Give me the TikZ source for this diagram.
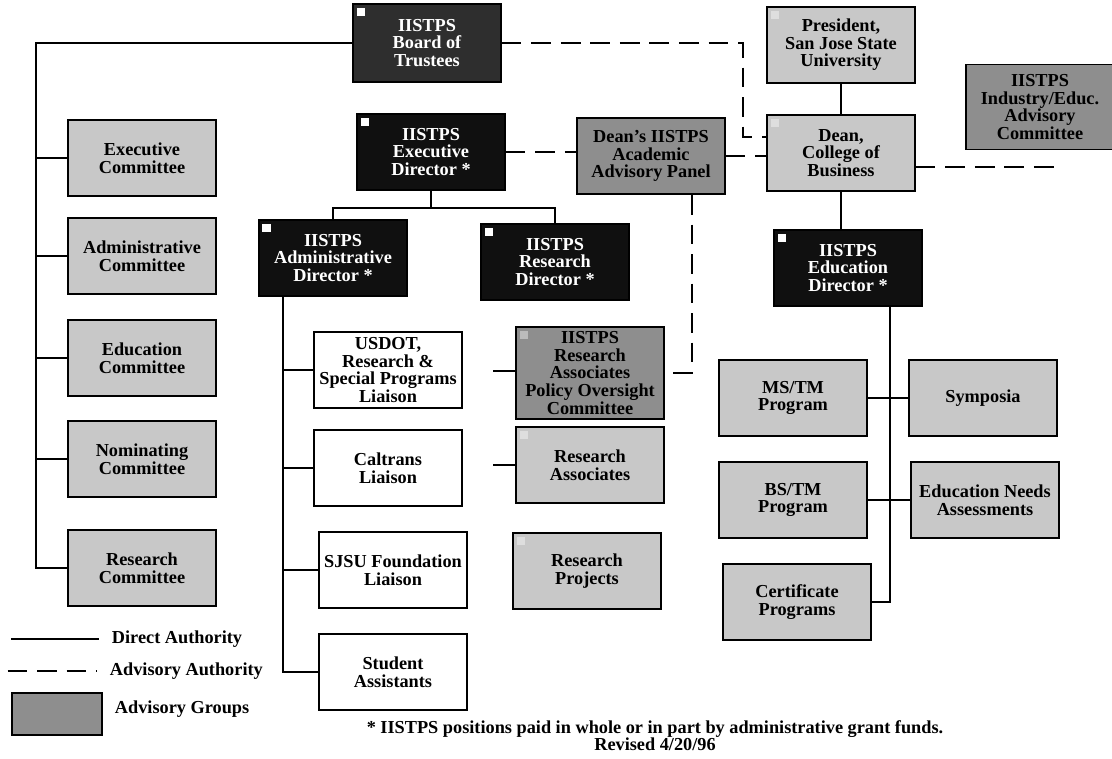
\documentclass[tikz,border=0pt]{standalone}
\usepackage{fontspec}
\setmainfont{Liberation Serif}
\usepackage{tikz}

\definecolor{lite}{HTML}{C8C8C8}
\definecolor{advgray}{HTML}{8E8E8E}
\definecolor{trustee}{HTML}{2E2E2E}
\definecolor{headblack}{HTML}{101010}

\begin{document}
\begin{tikzpicture}[x=0.025cm, y=-0.025cm,
  txt/.style={font=\fontsize{13}{12.5}\selectfont\bfseries},
  box/.style={txt, draw, line width=1.1pt, minimum width=3.7cm, minimum height=1.9cm,
    align=center, inner sep=1pt},
  corner tag/.style={path picture={\fill[#1] ([shift={(2.5pt,-2.5pt)}]path picture bounding box.north west) rectangle ++(6pt,-6pt);}},
  headbox/.style={box, fill=headblack, text=white, corner tag=white},
  litebox/.style={box, fill=lite},
  advbox/.style={box, fill=advgray},
  plainbox/.style={box, fill=white},
  authority/.style={line width=1.1pt},
  advisory/.style={line width=1.1pt, dash pattern=on 14pt off 7pt}]

  \path[use as bounding box, fill=white] (0,0) rectangle (1112,758);

  % top row
  \node[headbox, fill=trustee, minimum height=1.95cm] (board) at (427,43) {IISTPS\\Board of\\Trustees};
  \node[litebox, corner tag=lite!60!white] (pres) at (841,45) {President,\\San Jose State\\University};
  \node[advbox, minimum height=2.125cm] (indus) at (1040,107) {IISTPS\\Industry/Educ.\\Advisory\\Committee};

  % directors
  \node[headbox] (execd) at (431,152) {IISTPS\\Executive\\Director *};
  \node[advbox] (panel) at (651,156) {Dean's IISTPS\\Academic\\Advisory Panel};
  \node[litebox, corner tag=lite!60!white] (dean) at (841,153) {Dean,\\College of\\Business};
  \node[headbox] (admd) at (333,258) {IISTPS\\Administrative\\Director *};
  \node[headbox] (resd) at (555,262) {IISTPS\\Research\\Director *};
  \node[headbox] (edud) at (848,268) {IISTPS\\Education\\Director *};

  % committees (left column)
  \node[litebox] (execc) at (142,158) {Executive\\Committee};
  \node[litebox] (adminc) at (142,256) {Administrative\\Committee};
  \node[litebox] (educ) at (142,358) {Education\\Committee};
  \node[litebox] (nomc) at (142,459) {Nominating\\Committee};
  \node[litebox] (resc) at (142,568) {Research\\Committee};

  % liaisons
  \node[plainbox] (usdot) at (388,370) {USDOT,\\Research \&\\Special Programs\\Liaison};
  \node[plainbox] (caltr) at (388,468) {Caltrans\\Liaison};
  \node[plainbox] (sjsu) at (393,570) {SJSU Foundation\\Liaison};
  \node[plainbox] (stud) at (393,672) {Student\\Assistants};

  % research side
  \node[advbox, minimum height=2.3cm, corner tag=advgray!60!white] (policy) at (590,373) {IISTPS\\Research\\Associates\\Policy Oversight\\Committee};
  \node[litebox, corner tag=lite!60!white] (rass) at (590,465) {Research\\Associates};
  \node[litebox, corner tag=lite!60!white] (rproj) at (587,571) {Research\\Projects};

  % education side
  \node[litebox] (mstm) at (793,398) {MS/TM\\Program};
  \node[litebox] (symp) at (983,398) {Symposia};
  \node[litebox] (bstm) at (793,500) {BS/TM\\Program};
  \node[litebox] (needs) at (985,500) {Education Needs\\Assessments};
  \node[litebox] (cert) at (797,602) {Certificate\\Programs};

  % free ends
  \coordinate (trunk) at (36,43);
  \coordinate (bus) at (431,208);
  \coordinate (atrunk) at (283,297);
  \coordinate (etrunk) at (890,306);
  \coordinate (pstub) at (493,371);
  \coordinate (rstub) at (493,465);
  \coordinate (bend) at (743,137);
  \coordinate (pdrop) at (692,195);
  \coordinate (indend) at (1056,167);

  % direct authority
  \draw[authority] (board.west) -- (trunk) |- (resc.west);
  \draw[authority] (trunk |- execc.west) -- (execc.west);
  \draw[authority] (trunk |- adminc.west) -- (adminc.west);
  \draw[authority] (trunk |- educ.west) -- (educ.west);
  \draw[authority] (trunk |- nomc.west) -- (nomc.west);
  \draw[authority] (execd.south) -- (bus);
  \draw[authority] (admd.north) |- (bus) -| (resd.north);
  \draw[authority] (atrunk) |- (stud.west);
  \draw[authority] (atrunk |- usdot.west) -- (usdot.west);
  \draw[authority] (atrunk |- caltr.west) -- (caltr.west);
  \draw[authority] (atrunk |- sjsu.west) -- (sjsu.west);
  \draw[authority] (pstub) -- (pstub -| policy.west);
  \draw[authority] (rstub) -- (rass.west);
  \draw[authority] (pres.south) -- (dean.north);
  \draw[authority] (dean.south) -- (dean.south |- edud.north);
  \draw[authority] (etrunk) |- (cert.east);
  \draw[authority] (mstm.east) -- (symp.west);
  \draw[authority] (bstm.east) -- (needs.west);

  % advisory authority
  \draw[advisory] (board.east) -| (bend) -- (bend -| dean.west);
  \draw[advisory] (execd.east) -- (execd.east -| panel.west);
  \draw[advisory] (panel.east) -- (panel.east -| dean.west);
  \draw[advisory] (pdrop) |- (policy.east);
  \draw[advisory] (dean.east |- indend) -- (indend);

  % legend
  \coordinate (lgsa) at (11,639);
  \coordinate (lgsb) at (99,639);
  \coordinate (lgda) at (2,671);
  \coordinate (lgdb) at (97,671);
  \draw[authority] (lgsa) -- (lgsb);
  \draw[advisory, dash phase=-4pt] (lgda) -- (lgdb);
  \node[txt, anchor=west] (lgdirect) at (107,639) {Direct Authority};
  \node[txt, anchor=west] (lgadv) at (105,671) {Advisory Authority};
  \node[advbox, minimum width=2.25cm, minimum height=1.05cm] (lgbox) at (57,714) {};
  \node[txt, anchor=west] (lggroups) at (110,709) {Advisory Groups};

  % footnote
  \node[txt] (note) at (655,729) {* IISTPS positions paid in whole or in part by administrative grant funds.};
  \node[txt] (revised) at (655,744) {Revised 4/20/96};
\end{tikzpicture}
\end{document}
